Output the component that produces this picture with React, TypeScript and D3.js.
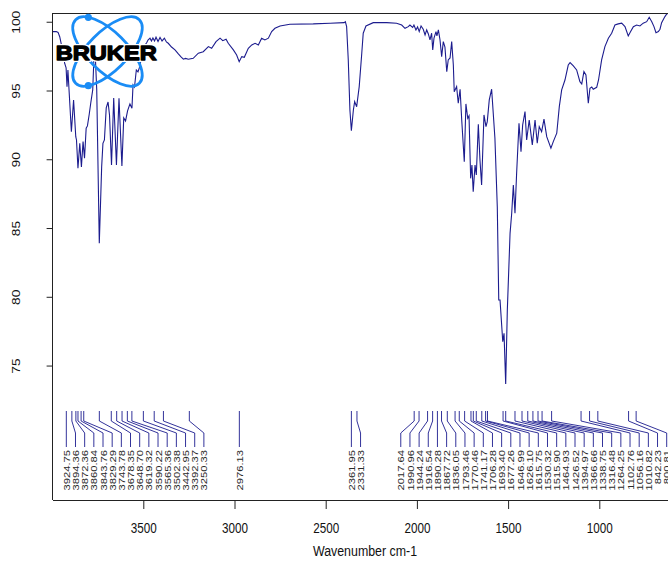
import React from "react";
import * as d3 from "d3";

// IR spectrum: wavenumber (cm-1) and transmittance (%)
const wavenumber = [
  3998, 3980, 3970, 3961, 3948, 3934, 3926, 3921, 3916, 3897, 3885, 3873, 3869, 3861, 3851, 3842,
  3833, 3825, 3816, 3809, 3799, 3791, 3780, 3773, 3765, 3758, 3744, 3731, 3724, 3716, 3706, 3696,
  3688, 3677, 3665, 3650, 3636, 3620, 3610, 3600, 3589, 3576, 3565, 3559, 3551, 3541, 3532, 3519,
  3514, 3504, 3485, 3477, 3466, 3458, 3450, 3441, 3433, 3422, 3411, 3400, 3387, 3376, 3366, 3348,
  3329, 3313, 3296, 3283, 3271, 3256, 3229, 3201, 3174, 3146, 3128, 3104, 3082, 3067, 3049, 3037,
  3009, 2991, 2977, 2963, 2949, 2927, 2908, 2890, 2872, 2854, 2836, 2817, 2799, 2781, 2753, 2699,
  2571, 2479, 2402, 2395, 2388, 2379, 2370, 2362, 2351, 2344, 2333, 2319, 2305, 2297, 2282, 2242,
  2168, 2114, 2086, 2068, 2050, 2041, 2026, 2019, 2008, 1999, 1990, 1980, 1968, 1958, 1949, 1940,
  1931, 1922, 1916, 1909, 1898, 1893, 1885, 1876, 1867, 1858, 1849, 1839, 1831, 1821, 1812, 1803,
  1798, 1785, 1776, 1766, 1757, 1743, 1734, 1724, 1717, 1708, 1701, 1694, 1684, 1677, 1666, 1657,
  1648, 1635, 1624, 1617, 1606, 1593, 1575, 1562, 1554, 1547, 1532, 1525, 1516, 1507, 1492, 1483,
  1474, 1465, 1456, 1443, 1432, 1423, 1410, 1401, 1387, 1370, 1355, 1343, 1332, 1319, 1306, 1291,
  1268, 1255, 1236, 1222, 1209, 1191, 1173, 1163, 1145, 1127, 1109, 1099, 1087, 1076, 1063, 1054,
  1044, 1036, 1017, 1007, 990, 972, 953, 935, 917, 899, 880, 862, 844, 831, 816, 798,
  780, 762, 743, 729, 715, 703, 692, 679, 670, 661, 643, 633, 604,
];

const transmittance = [
  99.32, 99.32, 99.26, 98.95, 98.13, 97.02, 96.68, 95.32, 96.53, 92.04, 94.35, 91.68, 91.44, 89.38, 91.2, 89.48,
  91.32, 90.11, 92.29, 92.46, 93.33, 94.11, 95.08, 97.55, 97.26, 95.08, 83.93, 89.5, 91.2, 91.44, 93.77, 94.2,
  93.26, 89.62, 94.49, 89.62, 94.47, 89.55, 93.04, 92.82, 93.55, 94.06, 93.75, 95.44, 95.29, 96.53, 96.39, 96.9,
  97.75, 98.2, 98.49, 98.71, 98.84, 98.64, 98.86, 98.64, 98.91, 98.6, 98.89, 98.64, 98.84, 98.57, 98.47, 98.2,
  97.99, 97.73, 97.48, 97.31, 97.37, 97.31, 97.38, 97.75, 97.86, 98.23, 98.11, 98.59, 98.84, 98.66, 98.76, 98.47,
  97.99, 97.62, 97.13, 97.5, 97.45, 98.11, 98.35, 98.47, 98.35, 98.84, 98.71, 98.84, 99.32, 99.56, 99.73, 99.85,
  99.88, 99.93, 99.97, 100.04, 99.68, 97.26, 93.62, 92.12, 93.62, 94.23, 93.86, 95.32, 97.75, 99.2, 99.73, 99.97,
  99.97, 99.93, 99.8, 99.56, 99.68, 99.8, 99.62, 99.8, 99.44, 99.66, 99.32, 99.73, 99.49, 99.08, 99.44, 99.15,
  98.71, 99.2, 97.99, 98.84, 99.32, 99.0, 99.44, 98.71, 97.5, 98.59, 98.2, 96.41, 97.26, 97.4, 98.59, 96.89,
  94.95, 95.32, 94.11, 95.13, 92.89, 89.86, 94.06, 93.02, 93.19, 88.65, 89.62, 87.68, 89.62, 88.89, 92.58, 89.99,
  88.17, 93.26, 92.41, 92.77, 94.35, 95.13, 91.56, 86.59, 79.8, 79.8, 76.77, 77.38, 73.69, 79.08, 84.65, 86.11,
  88.17, 86.11, 89.02, 92.65, 90.59, 92.53, 93.5, 91.44, 92.89, 91.08, 92.89, 91.2, 92.41, 92.04, 92.95, 91.68,
  90.84, 91.32, 91.93, 93.86, 95.08, 95.8, 96.89, 97.06, 96.82, 96.53, 95.68, 95.51, 96.41, 96.17, 94.11, 95.2,
  95.29, 95.13, 95.27, 95.8, 97.26, 98.23, 98.84, 99.2, 99.8, 99.88, 99.93, 99.68, 99.0, 99.32, 99.68, 99.8,
  99.73, 99.93, 100.04, 100.36, 100.04, 99.68, 99.24, 99.32, 99.49, 99.97, 100.41, 100.6, 100.75,
];

// Picked peaks (cm-1)
const peakPositions = [
  3924.75, 3894.36, 3872.36, 3860.84, 3843.76, 3829.29, 3743.78, 3678.35, 3648.7, 3619.32, 3590.22,
  3565.36, 3502.38, 3442.95, 3392.37, 3250.33, 2976.13, 2361.95, 2331.33, 2017.64, 1990.96, 1944.24,
  1916.54, 1890.28, 1867.72, 1836.05, 1793.46, 1770.46, 1741.17, 1706.28, 1693.4, 1677.26, 1646.99,
  1626.1, 1615.75, 1530.32, 1515.9, 1464.93, 1426.52, 1394.97, 1366.66, 1338.75, 1316.48, 1264.25,
  1102.76, 1056.16, 1010.82, 842.23, 800.81,
];

const xTicks = [3500, 3000, 2500, 2000, 1500, 1000];
const yTicks = [75, 80, 85, 90, 95, 100];

const W = 668;
const H = 561;
const plotLeft = 52.6;
const plotTop = 13.3;
const plotBottom = 500;
const FONT = "'Liberation Sans', Arial, Helvetica, sans-serif";
const LINE = "#1c1c8e";
const STRETCH = 1.2;

const x = d3.scaleLinear().domain([4000, 400]).range([plotLeft, plotLeft + 3600 * 0.1824]);
const y = d3.scaleLinear().domain([65.26, 100.65]).range([plotBottom, plotTop]);

// peak annotation band geometry
const tickTop = 411;
const bend1 = 421;
const bend2 = 433;
const tickBottom = 447;
const labelTop = 450;
const labelGap = 9.17;
const labelRight = 666.7;

function layoutLabels(px: number[]): number[] {
  const pos = [...px];
  for (let i = 1; i < pos.length; i++) pos[i] = Math.max(px[i], pos[i - 1] + labelGap);
  pos[pos.length - 1] = Math.min(pos[pos.length - 1], labelRight);
  for (let i = pos.length - 2; i >= 0; i--) pos[i] = Math.min(pos[i], pos[i + 1] - labelGap);
  return pos;
}

function Logo() {
  const cx = 107.5;
  const cy = 51.5;
  const a = 45;
  const b = 19.5;
  const dot = (rot: number, t: number) => {
    const r = (rot * Math.PI) / 180;
    const u = a * Math.cos(t);
    const v = b * Math.sin(t);
    return [cx + u * Math.cos(r) - v * Math.sin(r), cy + u * Math.sin(r) + v * Math.cos(r)];
  };
  const d1 = dot(45, (-147 * Math.PI) / 180);
  const d2 = dot(-45, (147 * Math.PI) / 180);
  const blue = "#1a8cf5";
  const wordmark = {
    x: 55.7,
    y: 60,
    fontFamily: FONT,
    fontWeight: 900,
    fontSize: 21,
    textLength: 101,
    lengthAdjust: "spacingAndGlyphs",
    strokeLinejoin: "round" as const,
  };
  return (
    <g>
      <ellipse cx={cx} cy={cy} rx={a} ry={b} transform={`rotate(45 ${cx} ${cy})`} fill="none" stroke={blue} strokeWidth={2.8} />
      <ellipse cx={cx} cy={cy} rx={a} ry={b} transform={`rotate(-45 ${cx} ${cy})`} fill="none" stroke={blue} strokeWidth={2.8} />
      <circle cx={d1[0]} cy={d1[1]} r={3.6} fill={blue} />
      <circle cx={d2[0]} cy={d2[1]} r={3.6} fill={blue} />
      <text {...wordmark} fill="#fff" stroke="#fff" strokeWidth={4}>
        BRUKER
      </text>
      <text {...wordmark} fill="#000" stroke="#000" strokeWidth={1.3}>
        BRUKER
      </text>
    </g>
  );
}

export default function App() {
  const points = wavenumber.map((w, i) => [w, transmittance[i]] as [number, number]);
  const line = d3
    .line<[number, number]>()
    .x((d) => x(d[0]))
    .y((d) => y(d[1]));

  const peakX = peakPositions.map((p) => x(p));
  const labelX = layoutLabels(peakX);

  return (
    <div style={{ position: "absolute", left: 0, top: 0 }}>
      <svg width={W} height={H} style={{ display: "block", background: "#fff" }}>
        <defs>
          <clipPath id="plot-area">
            <rect x={plotLeft} y={plotTop} width={W - plotLeft + 60} height={plotBottom - plotTop} />
          </clipPath>
        </defs>

        <path d={line(points) ?? ""} fill="none" stroke={LINE} strokeWidth={1.1} clipPath="url(#plot-area)" />

        {/* peak markers with leader lines */}
        <g fill="none" stroke={LINE} strokeWidth={0.9}>
          {peakPositions.map((p, i) => (
            <path
              key={p}
              d={`M${peakX[i]},${tickTop}V${bend1}L${labelX[i]},${bend2}V${tickBottom}`}
            />
          ))}
        </g>
        <g fontFamily={FONT} fontSize={9.5} fill="#2a2a2a">
          {peakPositions.map((p, i) => (
            <text
              key={p}
              transform={`translate(${labelX[i] + 3.6},${labelTop}) scale(1,1.18) rotate(-90)`}
              textAnchor="end"
            >
              {p.toFixed(2)}
            </text>
          ))}
        </g>

        {/* frame */}
        <g stroke="#222" strokeWidth={1} fill="none" shapeRendering="crispEdges">
          <line x1={plotLeft} x2={W} y1={plotTop} y2={plotTop} />
          <line x1={plotLeft} x2={plotLeft} y1={plotTop} y2={plotBottom} />
          <line x1={plotLeft} x2={W} y1={plotBottom} y2={plotBottom} />
        </g>

        {/* y axis */}
        <g fontFamily={FONT} fontSize={11.5} fill="#111">
          {yTicks.map((t) => (
            <g key={t}>
              <line x1={plotLeft - 6} x2={plotLeft} y1={y(t)} y2={y(t)} stroke="#222" />
              <text
                transform={`translate(20,${y(t)}) scale(1,${STRETCH}) rotate(-90)`}
                textAnchor="middle"
              >
                {t}
              </text>
            </g>
          ))}
        </g>

        {/* x axis */}
        <g fontFamily={FONT} fontSize={11.7} fill="#111">
          {xTicks.map((t) => (
            <g key={t}>
              <line x1={x(t)} x2={x(t)} y1={plotBottom} y2={plotBottom + 9} stroke="#222" />
              <text transform={`translate(${x(t)},533) scale(1,${STRETCH})`} textAnchor="middle">
                {t}
              </text>
            </g>
          ))}
          <text transform={`translate(365,555.5) scale(1,${STRETCH})`} textAnchor="middle" fontSize={12.4}>
            Wavenumber cm-1
          </text>
        </g>

        <Logo />
      </svg>
    </div>
  );
}
